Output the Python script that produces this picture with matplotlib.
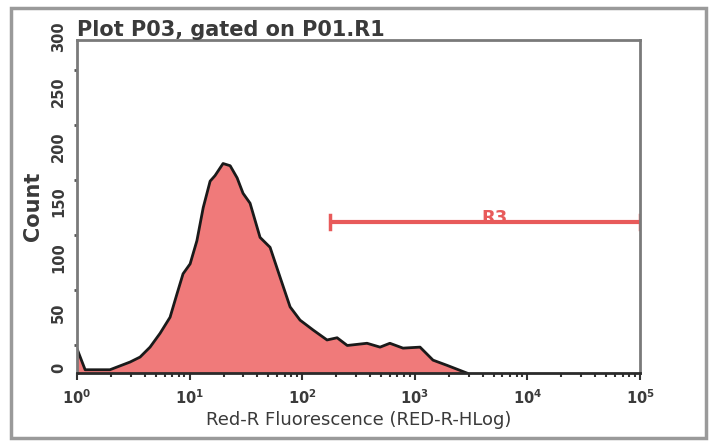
import numpy as np
import matplotlib.pyplot as plt
import matplotlib.transforms as mtransforms
from matplotlib.patches import Rectangle

# Histogram: fluorescence (log scale) and count
fluor = [1.0, 1.18, 1.96, 2.96, 3.63, 4.45, 5.46, 6.7, 7.73, 8.74, 10.1, 11.6,
         13.2, 15.2, 16.8, 19.8, 22.9, 26.4, 29.8, 34.4, 42.2, 51.8, 63.5, 78,
         95.6, 125, 166, 204, 251, 376, 491, 600, 785, 1112, 1450, 1930, 2900]
count = [22, 3, 3, 10, 14.5, 23.5, 36, 50.6, 72, 90, 99, 120,
         150, 174, 179, 190, 188, 177, 163, 154, 123, 114, 87, 60,
         48, 39, 30, 32, 25, 27, 23.5, 27, 22.6, 23.5, 11.7, 7, 0]

gate_lo, gate_hi, gate_y = 177, 1e5, 137
gate_name = "R3"

title = "Plot P03, gated on P01.R1"
xlabel = "Red-R Fluorescence (RED-R-HLog)"
ylabel = "Count"

text_col = "#3a3a3a"
fill_col = "#f07a7a"
gate_col = "#e85a5a"

fig = plt.figure(figsize=(7.1, 4.42), dpi=100)
ax = fig.add_axes([0.1085, 0.156, 0.793, 0.7535])

x = np.array(fluor)
y = np.array(count)
ax.fill_between(x, 0, y, color=fill_col, lw=0)
ax.plot(x, y, color="#1a1a1a", lw=2)

# gate marker
ax.plot([gate_lo, gate_hi], [gate_y, gate_y], color=gate_col, lw=3, solid_capstyle="butt")
ax.plot([gate_lo, gate_lo], [gate_y - 6, gate_y + 6], color=gate_col, lw=2.5)
ax.plot([gate_hi, gate_hi], [gate_y - 6, gate_y + 6], color=gate_col, lw=2.5)
ax.text(np.sqrt(gate_lo * gate_hi) * 1.22, gate_y + 4, gate_name, color=gate_col,
        fontsize=13, fontweight="bold", ha="center", va="center")

ax.set_xscale("log")
ax.set_xlim(1, 1e5)
ax.set_ylim(0, 302)
ax.set_yticks([0, 50, 100, 150, 200, 250, 300])
ax.set_yticks([25, 75, 125, 175, 225, 275], minor=True)

for s in ["top", "right", "left"]:
    ax.spines[s].set_color("#7a7a7a")
    ax.spines[s].set_linewidth(2)
ax.spines["bottom"].set_color("#2a2a2a")
ax.spines["bottom"].set_linewidth(2)

ax.tick_params(axis="x", which="major", length=5, width=1.5, color="#333333",
               labelsize=10.5, labelcolor=text_col, pad=6)
ax.tick_params(axis="x", which="minor", length=3, width=1.5, color="#333333")
ax.tick_params(axis="y", which="major", length=0, labelsize=10.5, labelcolor=text_col,
               pad=8)
ax.tick_params(axis="y", which="minor", length=2, width=2, color="#555555")
for lbl in ax.get_xticklabels() + ax.get_yticklabels():
    lbl.set_fontweight("bold")
# y labels sit a little above their ticks in the original
shift = mtransforms.ScaledTranslation(0, 4 / 72, fig.dpi_scale_trans)
for lbl in ax.get_yticklabels():
    lbl.set_rotation(90)
    lbl.set_va("center")
    lbl.set_transform(lbl.get_transform() + shift)

ax.set_xlabel(xlabel, fontsize=13, color=text_col, labelpad=3)
ax.set_ylabel(ylabel, fontsize=15, fontweight="bold", color=text_col, labelpad=6)
ax.set_title(title, fontsize=15, fontweight="bold", color=text_col, loc="left", pad=2)

# outer frame of the exported image
fig.patches.append(Rectangle((0.016, 0.008), 0.978, 0.975, transform=fig.transFigure,
                             fill=False, ec="#9a9a9a", lw=2.5))

fig.savefig("out.png", dpi=100)
